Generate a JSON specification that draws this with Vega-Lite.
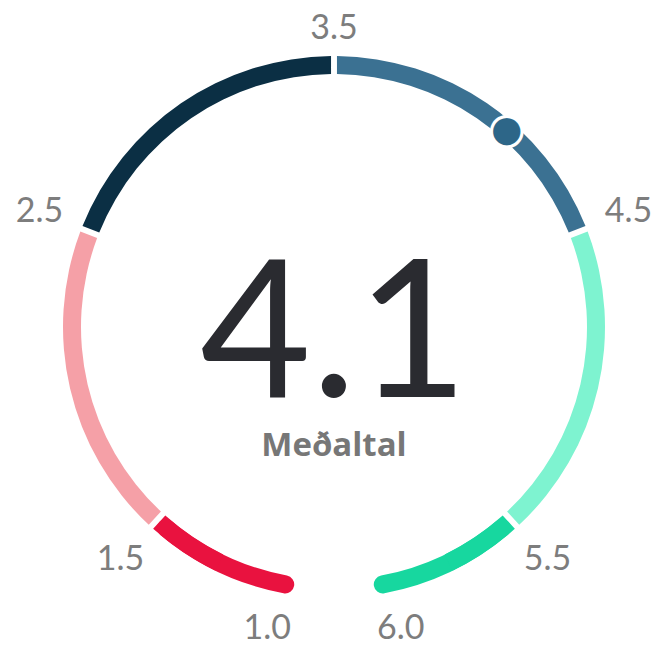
{
  "$schema": "https://vega.github.io/schema/vega-lite/v6.json",
  "width": 656,
  "height": 638,
  "autosize": "none",
  "padding": {"left": 6, "top": 8, "right": 0, "bottom": 0},
  "background": "white",
  "config": {"view": {"stroke": null}, "font": "Lato"},
  "datasets": {
    "bands": [
      {"from": 1.0, "to": 1.5, "band": "b1"},
      {"from": 1.5, "to": 2.5, "band": "b2"},
      {"from": 2.5, "to": 3.5, "band": "b3"},
      {"from": 3.5, "to": 4.5, "band": "b4"},
      {"from": 4.5, "to": 5.5, "band": "b5"},
      {"from": 5.5, "to": 6.0, "band": "b6"}
    ],
    "joins": [
      {"from": 1.25, "to": 1.5, "band": "b1"},
      {"from": 5.5, "to": 5.75, "band": "b6"}
    ],
    "ticks": [
      {"v": 1.0}, {"v": 1.5}, {"v": 2.5}, {"v": 3.5}, {"v": 4.5}, {"v": 5.5}, {"v": 6.0}
    ],
    "score": [{"value": 4.1, "label": "Meðaltal"}]
  },
  "layer": [
    {
      "data": {"name": "bands"},
      "transform": [{"filter": "datum.band != 'b1' && datum.band != 'b6'"}],
      "mark": {"type": "arc", "radius": 271, "radius2": 253, "padAngle": 0.016},
      "encoding": {
        "theta": {"field": "from", "type": "quantitative", "stack": null, "scale": {"domain": [1, 6], "range": [-3.0, 3.0]}},
        "theta2": {"field": "to"},
        "color": {"field": "band", "type": "nominal", "legend": null,
          "scale": {"domain": ["b1", "b2", "b3", "b4", "b5", "b6"], "range": ["#e9123f", "#f5a0a7", "#0b2f44", "#3b7192", "#7ef3d0", "#17d79f"]}}
      }
    },
    {
      "data": {"name": "bands"},
      "transform": [{"filter": "datum.band == 'b1' || datum.band == 'b6'"}],
      "mark": {"type": "arc", "radius": 271, "radius2": 253, "padAngle": 0.016, "cornerRadius": 9},
      "encoding": {
        "theta": {"field": "from", "type": "quantitative", "stack": null, "scale": {"domain": [1, 6], "range": [-3.0, 3.0]}},
        "theta2": {"field": "to"},
        "color": {"field": "band", "type": "nominal", "legend": null}
      }
    },
    {
      "data": {"name": "joins"},
      "mark": {"type": "arc", "radius": 271, "radius2": 253, "padAngle": 0.016},
      "encoding": {
        "theta": {"field": "from", "type": "quantitative", "stack": null, "scale": {"domain": [1, 6], "range": [-3.0, 3.0]}},
        "theta2": {"field": "to"},
        "color": {"field": "band", "type": "nominal", "legend": null}
      }
    },
    {
      "data": {"name": "score"},
      "mark": {"type": "text", "text": "●", "font": "DejaVu Sans", "fontSize": 40, "align": "center", "baseline": "middle", "fill": "#2d6688", "stroke": "white", "strokeWidth": 3},
      "encoding": {
        "theta": {"field": "value", "type": "quantitative", "stack": null, "scale": {"domain": [1, 6], "range": [-3.0, 3.0]}},
        "radius": {"value": 262}
      }
    },
    {
      "data": {"name": "ticks"},
      "transform": [{"filter": "datum.v == 1.5 || datum.v == 2.5 || datum.v == 4.5 || datum.v == 5.5"}],
      "mark": {"type": "text", "fontSize": 34, "align": "center", "baseline": "middle", "fill": "#7d7d7d"},
      "encoding": {
        "theta": {"field": "v", "type": "quantitative", "stack": null, "scale": {"domain": [1, 6], "range": [-3.0, 3.0]}},
        "radius": {"value": 316},
        "text": {"field": "v", "type": "quantitative", "format": ".1f"}
      }
    },
    {
      "data": {"name": "ticks"},
      "transform": [{"filter": "datum.v == 3.5"}],
      "mark": {"type": "text", "fontSize": 34, "align": "center", "baseline": "middle", "fill": "#7d7d7d"},
      "encoding": {
        "theta": {"field": "v", "type": "quantitative", "stack": null, "scale": {"domain": [1, 6], "range": [-3.0, 3.0]}},
        "radius": {"value": 298},
        "text": {"field": "v", "type": "quantitative", "format": ".1f"}
      }
    },
    {
      "data": {"name": "ticks"},
      "transform": [{"filter": "datum.v == 1.0"}],
      "mark": {"type": "text", "fontSize": 34, "align": "right", "baseline": "middle", "fill": "#7d7d7d"},
      "encoding": {
        "theta": {"field": "v", "type": "quantitative", "stack": null, "scale": {"domain": [1, 6], "range": [-3.0, 3.0]}},
        "radius": {"value": 305},
        "text": {"field": "v", "type": "quantitative", "format": ".1f"}
      }
    },
    {
      "data": {"name": "ticks"},
      "transform": [{"filter": "datum.v == 6.0"}],
      "mark": {"type": "text", "fontSize": 34, "align": "left", "baseline": "middle", "fill": "#7d7d7d"},
      "encoding": {
        "theta": {"field": "v", "type": "quantitative", "stack": null, "scale": {"domain": [1, 6], "range": [-3.0, 3.0]}},
        "radius": {"value": 305},
        "text": {"field": "v", "type": "quantitative", "format": ".1f"}
      }
    },
    {
      "data": {"name": "score"},
      "mark": {"type": "text", "fontSize": 192, "align": "center", "baseline": "alphabetic", "dy": 70, "fill": "#2a2b30"},
      "encoding": {
        "theta": {"value": 0},
        "radius": {"value": 0},
        "text": {"field": "value", "type": "quantitative", "format": ".1f"}
      }
    },
    {
      "data": {"name": "score"},
      "mark": {"type": "text", "font": "Open Sans", "fontSize": 33, "fontWeight": "bold", "align": "center", "baseline": "alphabetic", "dy": 129, "fill": "#777777"},
      "encoding": {
        "theta": {"value": 0},
        "radius": {"value": 0},
        "text": {"field": "label", "type": "nominal"}
      }
    }
  ]
}
